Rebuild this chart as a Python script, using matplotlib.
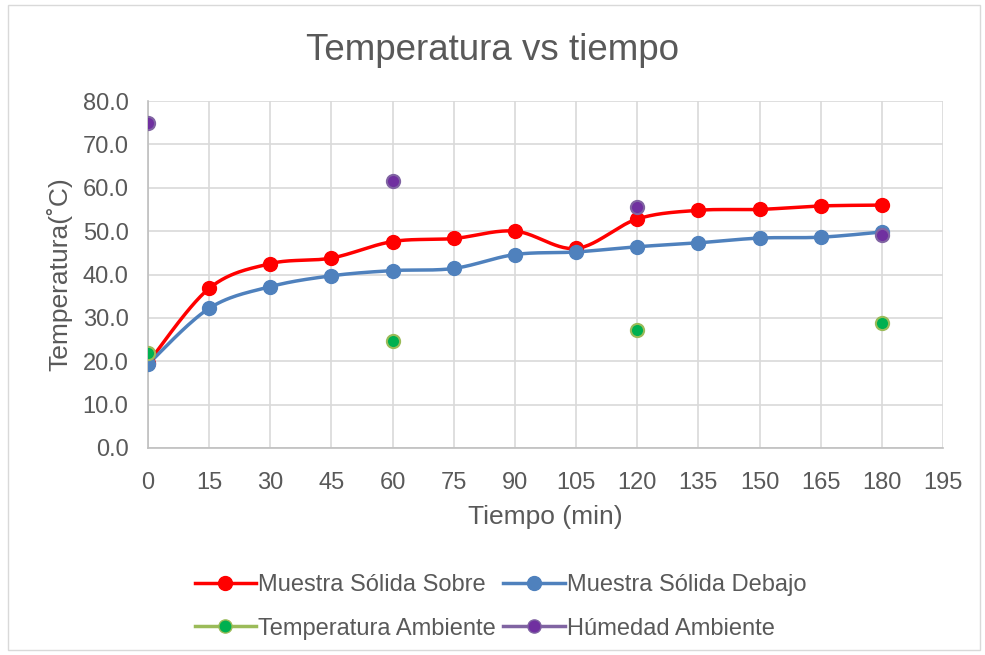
import matplotlib
matplotlib.use("Agg")
import matplotlib.pyplot as plt
import numpy as np
from matplotlib.patches import Rectangle

plt.rcParams['font.family'] = ['Liberation Sans', 'DejaVu Sans']

# Data
tiempo = [0, 15, 30, 45, 60, 75, 90, 105, 120, 135, 150, 165, 180]
sobre = [19.6, 36.8, 42.5, 43.8, 47.6, 48.3, 50.0, 46.0, 52.8, 54.8, 55.0, 55.8, 56.0]
debajo = [19.3, 32.2, 37.2, 39.7, 40.9, 41.4, 44.6, 45.2, 46.4, 47.3, 48.4, 48.6, 49.8]
tiempo_amb = [0, 60, 120, 180]
temp_amb = [22.0, 24.6, 27.1, 28.8]
hum_amb = [75.0, 61.5, 55.6, 49.0]


def smooth(x, y, n=30):
    # Excel-like smoothed line (Catmull-Rom style bezier)
    x = np.asarray(x, float)
    y = np.asarray(y, float)
    xs, ys = [], []
    for i in range(len(x) - 1):
        p0 = np.array([x[max(i - 1, 0)], y[max(i - 1, 0)]])
        p1 = np.array([x[i], y[i]])
        p2 = np.array([x[i + 1], y[i + 1]])
        p3 = np.array([x[min(i + 2, len(x) - 1)], y[min(i + 2, len(x) - 1)]])
        c1 = p1 + (p2 - p0) / 6
        c2 = p2 - (p3 - p1) / 6
        t = np.linspace(0, 1, n)[:, None]
        pts = ((1 - t) ** 3) * p1 + 3 * ((1 - t) ** 2) * t * c1 + 3 * (1 - t) * t ** 2 * c2 + t ** 3 * p2
        xs.extend(pts[:, 0])
        ys.extend(pts[:, 1])
    return xs, ys


fig = plt.figure(figsize=(9.85, 6.55), dpi=100)
fig.patches.append(Rectangle((8 / 985, 5 / 655), 972 / 985, 645 / 655, transform=fig.transFigure,
                             fill=False, edgecolor='#d9d9d9', linewidth=1))
ax = fig.add_axes([148 / 985, 1 - 448 / 655, 795 / 985, 347 / 655])

text_col = '#595959'
red = '#ff0000'
blue = '#4f81bd'

sx, sy = smooth(tiempo, sobre)
ax.plot(sx, sy, color=red, lw=2.5, zorder=3)
ax.plot(tiempo, sobre, 'o', color=red, ms=10, zorder=4)
bx, by = smooth(tiempo, debajo)
ax.plot(bx, by, color=blue, lw=2.5, zorder=3)
ax.plot(tiempo, debajo, 'o', color=blue, ms=10, zorder=4)
ax.plot(tiempo_amb, temp_amb, 'o', color='#00b050', mec='#9bbb59', mew=1.5, ms=9.5, zorder=5)
ax.plot(tiempo_amb, hum_amb, 'o', color='#7030a0', mec='#8064a2', mew=1.5, ms=9.5, zorder=5)

# legend handles
h1, = ax.plot([], [], '-o', color=red, lw=2.5, ms=10)
h2, = ax.plot([], [], '-o', color=blue, lw=2.5, ms=10)
h3, = ax.plot([], [], '-o', color='#9bbb59', mfc='#00b050', mec='#9bbb59', lw=2.5, ms=9.5)
h4, = ax.plot([], [], '-o', color='#8064a2', mfc='#7030a0', mec='#8064a2', lw=2.5, ms=9.5)

ax.set_xlim(0, 195)
ax.set_ylim(0, 80)
ax.set_xticks(np.arange(0, 196, 15))
ax.set_yticks(np.arange(0, 81, 10))
ax.set_yticklabels([f'{v:.1f}' for v in np.arange(0, 81, 10)])
ax.grid(True, color='#d9d9d9', lw=1.2)
ax.set_axisbelow(True)
for s in ['top', 'right']:
    ax.spines[s].set_visible(False)
for s in ['left', 'bottom']:
    ax.spines[s].set_color('#bfbfbf')
    ax.spines[s].set_linewidth(1.2)
ax.tick_params(length=0, labelsize=17, colors=text_col)
ax.tick_params(axis='x', pad=17)
ax.tick_params(axis='y', pad=14)

ax.set_xlabel('Tiempo (min)', fontsize=19, color=text_col, labelpad=8)
ax.set_ylabel('Temperatura(˚C)', fontsize=19, color=text_col, labelpad=7)
fig.text(0.5, 1 - 50 / 655, 'Temperatura vs tiempo', ha='center', va='center',
         fontsize=26.5, color=text_col)

fig.legend([h1, h3, h2, h4],
           ['Muestra Sólida Sobre', 'Temperatura Ambiente', 'Muestra Sólida Debajo', 'Húmedad Ambiente'],
           ncol=2, loc='center', bbox_to_anchor=(0.5 + 8 / 985, 1 - 607 / 655), frameon=False,
           fontsize=17, labelcolor=text_col, handlelength=2.6, handletextpad=0.1,
           columnspacing=0.3, labelspacing=0.9)

fig.savefig('out.png', dpi=100)
